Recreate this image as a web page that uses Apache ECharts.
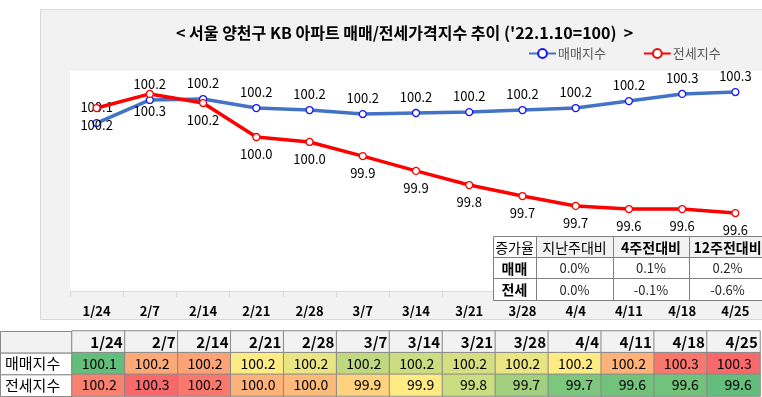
<!DOCTYPE html>
<html>
<head>
<meta charset="utf-8">
<script src="https://cdn.jsdelivr.net/npm/echarts@6/dist/echarts.min.js"></script>
<style>
  html, body { margin: 0; padding: 0; background: #fff; }
  #chart { width: 762px; height: 397px; }
</style>
</head>
<body>
<div id="chart"></div>
<script>
// 주간 날짜
const dates = ['1/24', '2/7', '2/14', '2/21', '2/28', '3/7', '3/14', '3/21', '3/28', '4/4', '4/11', '4/18', '4/25']
// 매매지수 ('22.1.10=100)
const saleIndex = [100.116, 100.242, 100.247, 100.198, 100.187, 100.165, 100.171, 100.176, 100.187, 100.198, 100.236, 100.275, 100.285]
// 전세지수
const jeonseIndex = [100.198, 100.275, 100.225, 100.040, 100.013, 99.936, 99.855, 99.778, 99.718, 99.664, 99.647, 99.647, 99.625]
// 증가율 표
const rateHeader = ['증가율', '지난주대비', '4주전대비', '12주전대비']
const rateRows = ['매매', '전세']
const saleRate = ['0.0%', '0.1%', '0.2%']
const jeonseRate = ['0.0%', '-0.1%', '-0.6%']

const FONT = '"Noto Sans CJK KR", "Noto Sans", sans-serif'
const chart = echarts.init(document.getElementById('chart'))

/**
 * 엑셀 3색 스케일 (최소 녹색 / 중간값 노랑 / 최대 빨강)
 */
function colorScale(arr) {
  const sorted = arr.slice().sort((a, b) => a - b)
  const min = sorted[0]
  const max = sorted[sorted.length - 1]
  const med = sorted[Math.floor(sorted.length / 2)]
  const g = [99, 190, 123]
  const y = [255, 235, 132]
  const r = [248, 105, 107]
  const mix = (a, b, t) => a.map((v, i) => Math.round(v + (b[i] - v) * t))
  return arr.map(v => {
    let c
    if (v <= med) c = mix(g, y, med === min ? 1 : (v - min) / (med - min))
    else c = mix(y, r, (v - med) / (max - med))
    return 'rgb(' + c.join(',') + ')'
  })
}

const saleColors = colorScale(saleIndex)
const jeonseColors = colorScale(jeonseIndex)

const headerCells = dates.map((d, i) => ({ value: [i, 0, 0], itemStyle: { color: '#f2f2f2' } }))
const valueCells = []
saleIndex.forEach((v, i) => valueCells.push({ value: [i, 1, v], itemStyle: { color: saleColors[i] } }))
jeonseIndex.forEach((v, i) => valueCells.push({ value: [i, 2, v], itemStyle: { color: jeonseColors[i] } }))

// 그래픽: 배경 박스, 표
const graphics = [
  {
    type: 'rect',
    z: -10,
    shape: { x: 40.5, y: 9.5, width: 740, height: 310 },
    style: { fill: '#f2f2f2', stroke: '#d9d9d9', lineWidth: 1 },
  },
]
// 하단 표 왼쪽 라벨 칸
const rowY = [331, 352.67, 374.33, 396]
for (let i = 0; i < 3; i++) {
  graphics.push({
    type: 'rect',
    z: -5,
    shape: { x: 0.5, y: rowY[i] + 0.5, width: 71.5, height: rowY[i + 1] - rowY[i] },
    style: { fill: i === 0 ? '#f2f2f2' : '#fff', stroke: '#898989', lineWidth: 1 },
  })
}
// 증가율 표
const colX = [493, 536, 613, 689, 766]
const tY = [236, 257, 278, 300]
const tableRows = [rateHeader, [rateRows[0]].concat(saleRate), [rateRows[1]].concat(jeonseRate)]
tableRows.forEach((row, ri) => {
  row.forEach((txt, ci) => {
    const isHead = ri === 0
    graphics.push({
      type: 'rect',
      z: 20,
      shape: { x: colX[ci] + 0.5, y: tY[ri] + 0.5, width: colX[ci + 1] - colX[ci], height: tY[ri + 1] - tY[ri] },
      style: { fill: isHead && ci > 0 ? '#f2f2f2' : '#fff', stroke: '#7f7f7f', lineWidth: 1 },
    })
    graphics.push({
      type: 'text',
      z: 21,
      x: (colX[ci] + colX[ci + 1]) / 2,
      y: (tY[ri] + tY[ri + 1]) / 2 + 1,
      style: {
        text: txt,
        align: 'center',
        verticalAlign: 'middle',
        font: (ci === 0 && ri > 0) || (isHead && ci > 1) ? 'bold 14px ' + FONT : (isHead ? '14px ' + FONT : '13px ' + FONT),
        fill: ri > 0 && ci > 0 ? '#262626' : '#000',
      },
    })
  })
})

const option = {
  animation: false,
  textStyle: { fontFamily: FONT },
  title: {
    text: "< 서울 양천구 KB 아파트 매매/전세가격지수 추이 ('22.1.10=100)  >",
    left: 176,
    top: 25,
    padding: 0,
    textStyle: { fontSize: 16, fontWeight: 'bold', color: '#000', fontFamily: FONT },
  },
  legend: {
    data: ['매매지수', '전세지수'],
    left: 528,
    top: 47,
    padding: 0,
    itemWidth: 27,
    itemHeight: 11,
    itemGap: 37,
    textStyle: { fontSize: 13, color: '#595959', padding: [0, 0, 0, -3] },
  },
  graphic: graphics,
  grid: [
    {
      left: 70,
      top: 71,
      width: 699,
      height: 220,
      show: true,
      backgroundColor: '#fff',
      borderWidth: 0,
    },
    {
      left: 72,
      top: 331,
      width: 688,
      height: 65,
    },
  ],
  xAxis: [
    {
      type: 'category',
      gridIndex: 0,
      data: dates,
      axisLine: { lineStyle: { color: '#d9d9d9' } },
      axisTick: { show: true, length: 6, lineStyle: { color: '#d9d9d9' } },
      axisLabel: { margin: 14, fontSize: 13, fontWeight: 'bold', color: '#000' },
    },
    {
      type: 'category',
      gridIndex: 1,
      data: dates,
      axisLine: { show: false },
      axisTick: { show: false },
      axisLabel: { show: false },
    },
  ],
  yAxis: [
    {
      type: 'value',
      gridIndex: 0,
      min: 99.2,
      max: 100.4,
      show: false,
      splitLine: { show: false },
    },
    {
      type: 'category',
      gridIndex: 1,
      inverse: true,
      data: ['', '매매지수', '전세지수'],
      axisLine: { show: false },
      axisTick: { show: false },
      axisLabel: { align: 'left', margin: 67, fontSize: 15, color: '#000' },
    },
  ],
  series: [
    {
      name: '매매지수',
      type: 'line',
      data: saleIndex,
      symbol: 'circle',
      symbolSize: 7,
      lineStyle: { color: '#4472c4', width: 3.5 },
      itemStyle: { color: '#fff', borderColor: '#1414ff', borderWidth: 1.3 },
      label: {
        show: true,
        position: 'top',
        distance: 5,
        fontSize: 13,
        color: '#000',
        formatter: p => p.value.toFixed(1),
      },
      z: 3,
    },
    {
      name: '전세지수',
      type: 'line',
      data: jeonseIndex,
      symbol: 'circle',
      symbolSize: 7,
      lineStyle: { color: '#ff0000', width: 3.5 },
      itemStyle: { color: '#fff', borderColor: '#ff0000', borderWidth: 1.3 },
      label: {
        show: true,
        position: 'bottom',
        distance: 6,
        fontSize: 13,
        color: '#000',
        formatter: p => p.value.toFixed(1),
      },
      z: 4,
    },
    {
      type: 'heatmap',
      xAxisIndex: 1,
      yAxisIndex: 1,
      data: headerCells,
      itemStyle: { borderColor: '#898989', borderWidth: 1 },
      label: {
        show: true,
        position: 'insideRight',
        distance: 3,
        fontSize: 15,
        fontWeight: 'bold',
        color: '#000',
        formatter: p => dates[p.value[0]],
      },
      emphasis: { disabled: true },
    },
    {
      type: 'heatmap',
      xAxisIndex: 1,
      yAxisIndex: 1,
      data: valueCells,
      itemStyle: { borderColor: '#898989', borderWidth: 1 },
      label: {
        show: true,
        position: 'insideRight',
        distance: 9,
        fontSize: 14,
        color: '#000',
        formatter: p => p.value[2].toFixed(1),
      },
      emphasis: { disabled: true },
    },
  ],
}

chart.setOption(option)
</script>
</body>
</html>
